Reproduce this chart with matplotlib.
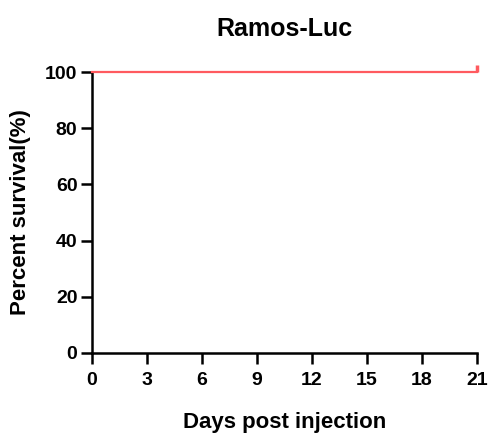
import matplotlib
matplotlib.use("Agg")
import matplotlib.pyplot as plt

days = [0, 21]
survival = [100, 100]
censor_days = [21]
censor_surv = [100]
x_ticks = [0, 3, 6, 9, 12, 15, 18, 21]
y_ticks = [0, 20, 40, 60, 80, 100]

plt.rcParams['font.family'] = ['Liberation Sans', 'DejaVu Sans']
plt.rcParams['font.weight'] = 'bold'

fig = plt.figure(figsize=(4.88, 4.4), dpi=100)
ax = fig.add_axes([0.1885, 0.198, 0.7885, 0.638])

ax.step(days, survival, where='post', color='#ff5a5f', linewidth=1.6, clip_on=False, zorder=3)
# censor tick at the end of the curve
ax.plot(censor_days, censor_surv, linestyle='none', marker=2, markersize=5,
        markeredgewidth=2.5, color='#ff5a5f', clip_on=False, zorder=3)

ax.set_xlim(0, 21)
ax.set_ylim(0, 100)
ax.set_xticks(x_ticks)
ax.set_yticks(y_ticks)

for side in ['top', 'right']:
    ax.spines[side].set_visible(False)
for side in ['left', 'bottom']:
    ax.spines[side].set_linewidth(1.8)

ax.tick_params(axis='both', direction='out', length=8, width=1.8, labelsize=14)
ax.tick_params(axis='x', pad=5.5)
ax.tick_params(axis='y', pad=2.5)
for lbl in ax.get_xticklabels() + ax.get_yticklabels():
    lbl.set_fontweight('bold')

ax.set_title('Ramos-Luc', fontsize=18, fontweight='bold', pad=26)
ax.set_xlabel('Days post injection', fontsize=16, fontweight='bold', labelpad=17)
ax.set_ylabel('Percent survival(%)', fontsize=16, fontweight='bold', labelpad=10)

fig.savefig('out.png', dpi=100)
